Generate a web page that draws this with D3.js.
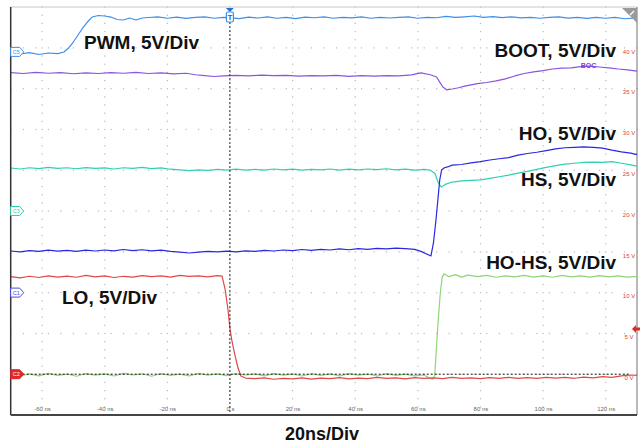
<!DOCTYPE html>
<html>
<head>
<meta charset="utf-8">
<script src="https://cdn.jsdelivr.net/npm/d3@7"></script>
<style>
  body { margin: 0; background: #fff; }
  svg { display: block; font-family: "Liberation Sans", Arial, sans-serif; }
</style>
</head>
<body>
<div id="my_dataviz"></div>
<script>
// time ticks (ns) and screen voltage ticks (5 V per division)
var timeTicks = [-60, -40, -20, 0, 20, 40, 60, 80, 100, 120];
var timeLabels = ["-60 ns", "-40 ns", "-20 ns", "0 s", "20 ns", "40 ns", "60 ns", "80 ns", "100 ns", "120 ns"];
var voltTicks = [40, 35, 30, 25, 20, 15, 10, 5, 0];
var voltLabels = ["40 V", "35 V", "30 V", "25 V", "20 V", "15 V", "10 V", "5 V", "0 V"];

// traces: [time ns, screen volts]
var pwm = [[-70,39.36],[-67,39.24],[-64,39.40],[-61,39.18],[-58,39.36],[-55,39.28],[-53,39.49],[-51.5,39.98],[-50,40.71],[-48.5,41.57],[-47,42.43],[-45.5,43.16],[-44,43.77],[-42,43.96],[-40,43.90],[-38,43.77],[-36,43.47],[-34,43.41],[-32,43.65],[-30,43.41],[-28,43.65],[-26,43.71],[-23,43.80],[-20,43.62],[-17,43.77],[-14,43.60],[-11,43.74],[-8,43.80],[-5,43.62],[-2,43.74],[0,43.70],[3,43.58],[6,43.77],[9,43.65],[12,43.80],[15,43.62],[18,43.74],[21,43.58],[24,43.77],[27,43.68],[30,43.80],[33,43.62],[36,43.74],[39,43.66],[42,43.80],[45,43.62],[48,43.74],[51,43.65],[54,43.72],[57,43.80],[60,43.62],[63,43.74],[66,43.68],[69,43.84],[72,43.72],[75,43.80],[78,43.90],[81,43.74],[84,43.82],[87,43.70],[90,43.80],[93,43.66],[96,43.74],[99,43.62],[102,43.72],[105,43.80],[108,43.64],[111,43.72],[114,43.60],[117,43.74],[120,43.62],[123,43.72],[126,43.56],[130,43.66]];
var boot = [[-70,36.95],[-66,36.85],[-62,36.98],[-58,36.88],[-54,36.95],[-50,36.82],[-46,36.92],[-42,36.85],[-38,36.95],[-34,36.88],[-30,36.98],[-26,36.85],[-22,36.92],[-18,36.80],[-14,36.88],[-11,36.70],[-8,36.60],[-5,36.48],[-2,36.55],[2,36.62],[6,36.55],[10,36.65],[14,36.58],[18,36.62],[22,36.52],[26,36.60],[30,36.55],[34,36.62],[38,36.50],[42,36.58],[46,36.52],[50,36.60],[54,36.55],[58,36.68],[61,36.92],[64,36.70],[66,36.42],[67,35.80],[68,35.20],[69.2,34.85],[71,34.95],[73,35.10],[75,35.30],[77,35.45],[79,35.60],[82,35.75],[85,35.95],[88,36.20],[91,36.55],[94,36.85],[97,37.05],[100,37.20],[103,37.40],[106,37.50],[109,37.55],[112,37.70],[115,37.75],[118,37.65],[121,37.55],[124,37.40],[127,37.30],[130,37.15]];
var hs = [[-70,25.27],[-67,25.15],[-64,25.30],[-61,25.20],[-58,25.35],[-55,25.22],[-52,25.30],[-49,25.18],[-46,25.32],[-43,25.22],[-40,25.28],[-37,25.15],[-34,25.30],[-31,25.22],[-28,25.35],[-25,25.20],[-22,25.28],[-19,25.12],[-16,25.05],[-13,24.95],[-10,25.05],[-7,24.98],[-4,25.10],[-1,25.02],[2,25.12],[5,25.00],[8,25.10],[11,25.02],[14,25.15],[17,25.05],[20,25.12],[23,25.00],[26,25.10],[29,25.05],[32,25.15],[35,25.02],[38,25.12],[41,25.05],[44,25.15],[47,25.08],[50,25.18],[53,25.05],[56,25.12],[59,25.02],[62,25.10],[64,25.00],[65.5,24.60],[66.5,23.50],[67.5,22.94],[69,23.30],[71,23.55],[74,23.68],[77,23.75],[80,23.82],[83,24.00],[86,24.20],[89,24.40],[92,24.65],[95,24.85],[98,25.10],[101,25.35],[104,25.55],[107,25.75],[110,25.85],[113,25.95],[116,26.00],[119,25.95],[122,26.05],[125,25.85],[128,25.65],[130,25.50]];
var ho = [[-70,15.10],[-67,15.00],[-64,15.15],[-61,15.05],[-58,15.20],[-55,15.08],[-52,15.18],[-49,15.05],[-46,15.20],[-43,15.10],[-40,15.22],[-37,15.12],[-34,15.28],[-31,15.15],[-28,15.25],[-25,15.12],[-22,15.20],[-19,15.05],[-16,14.95],[-13,14.85],[-10,14.95],[-7,15.05],[-4,14.98],[-1,15.08],[2,15.00],[5,15.12],[8,15.05],[11,15.18],[14,15.10],[17,15.22],[20,15.15],[23,15.28],[26,15.18],[29,15.30],[32,15.22],[35,15.35],[38,15.25],[41,15.38],[44,15.30],[47,15.42],[50,15.35],[53,15.45],[56,15.38],[59,15.30],[61,15.05],[63,14.70],[64.2,14.49],[65,16.08],[65.8,18.90],[66.4,21.32],[67,23.80],[67.6,25.02],[68.5,25.30],[69.5,25.40],[71,25.62],[74,25.70],[77,25.90],[80,26.05],[83,26.25],[86,26.40],[89,26.55],[92,26.85],[95,27.05],[98,27.20],[101,27.40],[104,27.62],[107,27.75],[110,27.80],[113,27.85],[116,27.80],[119,27.70],[122,27.45],[125,27.25],[128,27.10],[130,26.90]];
var hoHs = [[-70,-0.05],[-67,-0.25],[-64,0.05],[-61,-0.20],[-58,0.10],[-55,-0.15],[-52,0.02],[-49,-0.25],[-46,0.08],[-43,-0.12],[-40,0.05],[-37,-0.22],[-34,0.10],[-31,-0.10],[-28,0.05],[-25,-0.25],[-22,0.08],[-19,-0.15],[-16,0.02],[-13,-0.20],[-10,0.10],[-7,-0.12],[-4,0.05],[-1,-0.18],[2,0.08],[5,-0.10],[8,0.05],[11,-0.20],[14,0.08],[17,-0.12],[20,0.05],[23,-0.22],[26,0.06],[29,-0.15],[32,0.04],[35,-0.20],[38,0.08],[41,-0.12],[44,0.02],[47,-0.22],[50,0.06],[53,-0.15],[56,0.02],[59,-0.20],[62,-0.10],[63.5,-0.45],[64.8,-0.60],[65.4,-0.20],[66,3.50],[66.6,7.00],[67.2,10.00],[67.8,11.90],[68.4,12.30],[70,11.95],[72,12.20],[74,11.90],[76,12.15],[79,11.95],[82,12.10],[85,11.88],[88,12.05],[91,11.92],[94,12.12],[97,11.90],[100,12.05],[103,11.88],[106,12.10],[109,11.92],[112,12.05],[115,11.90],[118,12.08],[121,11.92],[124,12.05],[127,11.90],[130,12.00]];
var lo = [[-70,11.95],[-67,11.80],[-64,12.00],[-61,11.85],[-58,12.05],[-55,11.90],[-52,12.02],[-49,11.88],[-46,12.10],[-43,11.92],[-40,12.05],[-37,11.85],[-34,12.00],[-31,11.90],[-28,12.08],[-25,11.95],[-22,12.05],[-19,11.90],[-16,12.10],[-13,11.98],[-10,12.05],[-7,11.92],[-4,12.08],[-2.5,12.03],[-1.5,10.32],[-0.6,7.87],[0,5.66],[0.6,4.19],[1.6,2.35],[2.6,0.76],[3.5,-0.22],[5,-0.47],[8,-0.55],[11,-0.45],[14,-0.62],[17,-0.50],[20,-0.58],[23,-0.45],[26,-0.60],[29,-0.48],[32,-0.55],[35,-0.42],[38,-0.58],[41,-0.47],[44,-0.55],[47,-0.40],[50,-0.52],[53,-0.45],[56,-0.58],[59,-0.42],[62,-0.50],[65,-0.45],[68,-0.55],[71,-0.40],[74,-0.52],[77,-0.45],[80,-0.55],[83,-0.42],[86,-0.50],[89,-0.40],[92,-0.52],[95,-0.42],[98,-0.50],[101,-0.38],[104,-0.48],[107,-0.40],[110,-0.50],[113,-0.35],[116,-0.45],[119,-0.30],[122,-0.40],[125,-0.20],[128,-0.10],[130,-0.15]];

// channel markers on the left edge: name, offset (screen volts)
var markerNames = ["C5", "C3", "C1", "C2"];
var markerOffsets = [39.5, 20, 10, 0];

var width = 643, height = 445;

var svg = d3.select("#my_dataviz")
    .append("svg")
    .attr("width", width)
    .attr("height", height);

var x = d3.scaleLinear().domain([-70, 130]).range([10.7, 637]);
var y = d3.scaleLinear().domain([-5, 45]).range([415, 7]);

// dotted grid
var grid = svg.append("g").attr("fill", "#b8b8b8");
timeTicks.forEach(function (t) {
    d3.range(-5, 45.01, 1).forEach(function (v) {
        grid.append("rect").attr("x", x(t) - 0.5).attr("y", y(v) - 0.5).attr("width", 1.2).attr("height", 1.2);
    });
});
voltTicks.forEach(function (v) {
    d3.range(-70, 130.01, 4).forEach(function (t) {
        grid.append("rect").attr("x", x(t) - 0.5).attr("y", y(v) - 0.5).attr("width", 1.2).attr("height", 1.2);
    });
});

// frame
svg.append("line").attr("x1", x(-70)).attr("x2", x(130)).attr("y1", y(45)).attr("y2", y(45))
    .attr("stroke", "#c8c8c8").attr("stroke-width", 1);
svg.append("line").attr("x1", x(130)).attr("x2", x(130)).attr("y1", y(45)).attr("y2", y(-5))
    .attr("stroke", "#8a8a8a").attr("stroke-width", 1.2);

// x tick labels
var xAxis = svg.append("g")
    .attr("transform", "translate(0,408)")
    .call(d3.axisBottom(x).tickValues(timeTicks).tickSize(0)
        .tickFormat(function (d, i) { return timeLabels[i]; }));
xAxis.select(".domain").remove();
xAxis.selectAll("text").attr("fill", "#666").style("font-size", "6px").attr("dy", 0);

// right volt labels
var yAxis = svg.append("g")
    .attr("transform", "translate(629,0)")
    .call(d3.axisRight(y).tickValues(voltTicks).tickSize(0).tickPadding(0)
        .tickFormat(function (d, i) { return voltLabels[i]; }));
yAxis.select(".domain").remove();
yAxis.selectAll("text").attr("fill", "#e03a3a").style("font-size", "6px")
    .attr("text-anchor", "middle").attr("dy", "0.9em");

// traces
var line = d3.line()
    .x(function (d) { return x(d[0]); })
    .y(function (d) { return y(d[1]); });

var traces = [
    { data: pwm, color: "#3d8fe8" },
    { data: boot, color: "#8a55dc" },
    { data: hs, color: "#2fd0b2" },
    { data: ho, color: "#2828e0" },
    { data: hoHs, color: "#8fd47a" },
    { data: lo, color: "#e04848" }
];
traces.forEach(function (tr) {
    svg.append("path")
        .datum(tr.data)
        .attr("fill", "none")
        .attr("stroke", tr.color)
        .attr("stroke-width", 1.2)
        .attr("stroke-linejoin", "round")
        .attr("d", line);
});

// little purple tag near BOOT trace
svg.append("text").attr("x", x(112)).attr("y", y(37.75) + 2).attr("fill", "#7a45d8")
    .style("font-size", "7px").style("font-weight", "bold").text("BOC");

// ground reference and trigger time lines
svg.append("line").attr("x1", x(-70)).attr("x2", x(128)).attr("y1", y(0)).attr("y2", y(0))
    .attr("stroke", "#111").attr("stroke-width", 1).attr("stroke-dasharray", "2,2");
svg.append("line").attr("x1", x(0)).attr("x2", x(0)).attr("y1", 22).attr("y2", y(-5))
    .attr("stroke", "#222").attr("stroke-width", 1).attr("stroke-dasharray", "2,2");

// left and bottom frame
svg.append("line").attr("x1", x(-70)).attr("x2", x(-70)).attr("y1", y(45)).attr("y2", y(-5))
    .attr("stroke", "#333").attr("stroke-width", 1.5);
svg.append("line").attr("x1", x(-70)).attr("x2", x(130)).attr("y1", y(-5)).attr("y2", y(-5))
    .attr("stroke", "#444").attr("stroke-width", 2);

// channel markers
var markerColors = ["#3d8fe8", "#2fd0b2", "#4a4ae6", "#e02828"];
markerNames.forEach(function (name, i) {
    var cy = y(markerOffsets[i]);
    var filled = i == 3;
    var g = svg.append("g").attr("transform", "translate(" + x(-70) + "," + cy + ")");
    g.append("path")
        .attr("d", "M0,-4.5 L9,-4.5 L13,0 L9,4.5 L0,4.5 Z")
        .attr("fill", filled ? markerColors[i] : "#fff")
        .attr("stroke", markerColors[i]).attr("stroke-width", 1);
    g.append("text").attr("x", 5.5).attr("y", 2)
        .attr("text-anchor", "middle")
        .attr("fill", filled ? "#fff" : markerColors[i])
        .style("font-size", "5.5px").text(name);
});

// trigger marker at top
var tg = svg.append("g").attr("transform", "translate(" + x(0) + ",0)");
tg.append("path").attr("d", "M-4,8 L4,8 L0,12 Z").attr("fill", "#2a6fd0");
tg.append("rect").attr("x", -3.5).attr("y", 12).attr("width", 7).attr("height", 10).attr("rx", 1.5)
    .attr("fill", "#fff").attr("stroke", "#3d8fe8").attr("stroke-width", 1.2);
tg.append("text").attr("x", 0).attr("y", 20).attr("text-anchor", "middle")
    .attr("fill", "#2a5fc0").style("font-size", "8px").style("font-weight", "bold").text("T");

// top right corner icon
svg.append("path").attr("d", "M622,8 L637,8 L637,23 Z").attr("fill", "#9a9a9a");
svg.append("line").attr("x1", 630).attr("x2", 634).attr("y1", 15).attr("y2", 11)
    .attr("stroke", "#fff").attr("stroke-width", 1.2);

// trigger level arrow on the right
svg.append("path").attr("d", "M632,329 L636,325 L636,327.5 L640,327.5 L640,330.5 L636,330.5 L636,333 Z")
    .attr("fill", "#e02828");

// channel labels
var labels = [
    { text: "PWM, 5V/Div", x: 84, y: 48.5, anchor: "start" },
    { text: "BOOT, 5V/Div", x: 616, y: 57, anchor: "end" },
    { text: "HO, 5V/Div", x: 616, y: 139.5, anchor: "end" },
    { text: "HS, 5V/Div", x: 616, y: 185.5, anchor: "end" },
    { text: "HO-HS, 5V/Div", x: 616, y: 268.5, anchor: "end" },
    { text: "LO, 5V/Div", x: 62, y: 303.5, anchor: "start" }
];
svg.append("g")
    .selectAll("text")
    .data(labels)
    .enter()
    .append("text")
    .attr("x", function (d) { return d.x; })
    .attr("y", function (d) { return d.y; })
    .attr("text-anchor", function (d) { return d.anchor; })
    .attr("fill", "#111")
    .style("font-size", "19px")
    .style("font-weight", "bold")
    .text(function (d) { return d.text; });

// time base caption
svg.append("text")
    .attr("x", 322).attr("y", 439.5)
    .attr("text-anchor", "middle")
    .attr("fill", "#111")
    .style("font-size", "18px")
    .style("font-weight", "bold")
    .text("20ns/Div");
</script>
</body>
</html>
